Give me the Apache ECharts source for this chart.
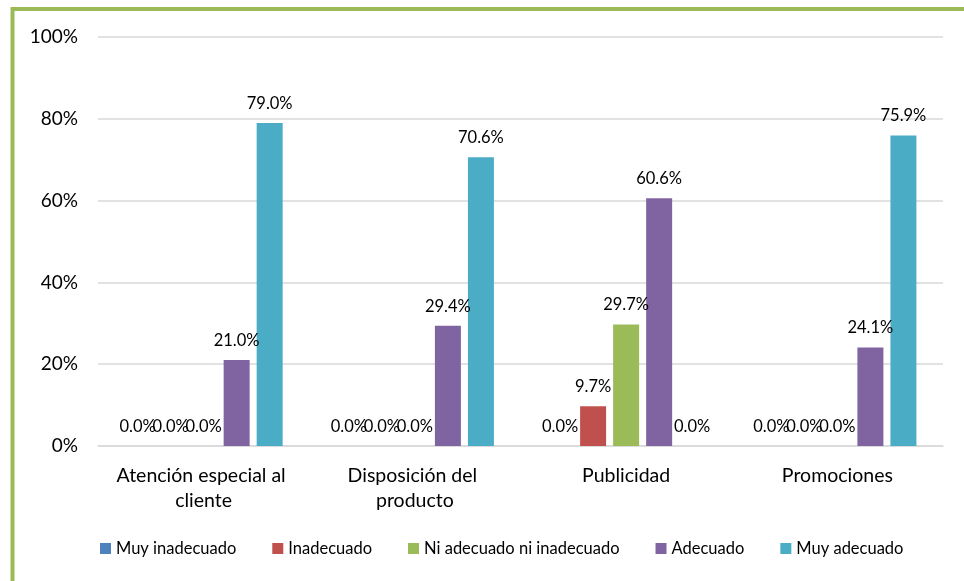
<!DOCTYPE html>
<html>
<head>
<meta charset="utf-8">
<script src="https://cdn.jsdelivr.net/npm/echarts@6/dist/echarts.min.js"></script>
<style>
  html, body { margin: 0; padding: 0; background: #fff; }
  #chart { width: 964px; height: 581px; }
</style>
</head>
<body>
<div id="chart"></div>
<script>
// Survey results by aspect (percent of respondents)
const categories = ['Atención especial al cliente', 'Disposición del producto', 'Publicidad', 'Promociones'];
const seriesNames = ['Muy inadecuado', 'Inadecuado', 'Ni adecuado ni inadecuado', 'Adecuado', 'Muy adecuado'];
const muyInadecuado = [0.0, 0.0, 0.0, 0.0];
const inadecuado = [0.0, 0.0, 9.7, 0.0];
const niAdecuado = [0.0, 0.0, 29.7, 0.0];
const adecuado = [21.0, 29.4, 60.6, 24.1];
const muyAdecuado = [79.0, 70.6, 0.0, 75.9];
const yTicks = [0, 20, 40, 60, 80, 100];

const colors = ['#4F81BD', '#C0504D', '#9BBB59', '#8064A2', '#4BACC6'];
const seriesData = [muyInadecuado, inadecuado, niAdecuado, adecuado, muyAdecuado];
const font = 'Lato, "Open Sans", sans-serif';

const chart = echarts.init(document.getElementById('chart'));
chart.setOption({
  animation: false,
  color: colors,
  textStyle: { fontFamily: font },
  grid: { left: 98, right: 21, top: 37, bottom: 135 },
  legend: {
    bottom: 19,
    left: 95,
    itemWidth: 11,
    itemHeight: 11,
    itemGap: 36,
    icon: 'rect',
    textStyle: { fontSize: 16.5, color: '#000', fontFamily: font },
    data: seriesNames
  },
  xAxis: {
    type: 'category',
    data: categories,
    axisLine: { lineStyle: { color: '#D9D9D9', width: 1.5 } },
    axisTick: { show: false },
    axisLabel: {
      color: '#000',
      fontSize: 19.5,
      fontFamily: font,
      margin: 17,
      width: 195,
      overflow: 'break',
      lineHeight: 25,
      interval: 0
    }
  },
  yAxis: {
    type: 'value',
    min: yTicks[0],
    max: yTicks[yTicks.length - 1],
    interval: 20,
    axisLine: { show: false },
    axisTick: { show: false },
    splitLine: { lineStyle: { color: '#D9D9D9', width: 1.5 } },
    axisLabel: {
      color: '#000',
      fontSize: 19,
      fontFamily: font,
      margin: 20,
      formatter: v => v + '%'
    }
  },
  series: seriesNames.map((name, i) => ({
    name,
    type: 'bar',
    data: seriesData[i],
    barWidth: 26,
    barGap: '27%',
    barCategoryGap: '25%',
    label: {
      show: true,
      position: 'top',
      distance: 11,
      color: '#000',
      fontSize: 16.5,
      fontFamily: font,
      formatter: p => p.value.toFixed(1) + '%'
    }
  })),
  graphic: [{
    type: 'polyline',
    silent: true,
    shape: { points: [[12.5, 581], [12.5, 9], [964, 9]] },
    style: { stroke: '#9BBB59', lineWidth: 4, fill: null }
  }]
});
</script>
</body>
</html>
